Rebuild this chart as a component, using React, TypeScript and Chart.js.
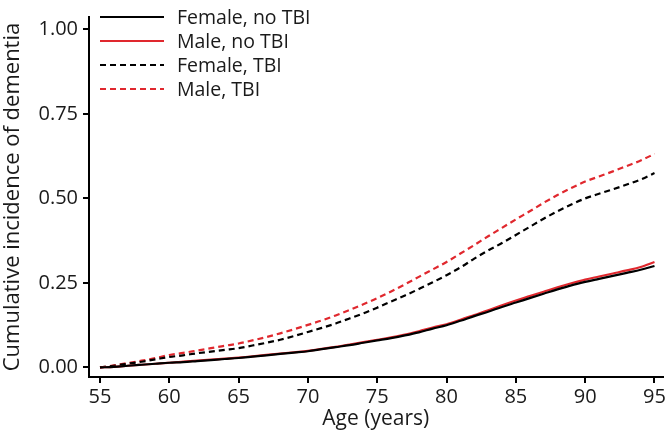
import React, { useEffect, useRef } from "react";
import { Chart, registerables } from "chart.js";

Chart.register(...registerables);

const ages = [55, 56, 57, 58, 59, 60, 61, 62, 63, 64, 65, 66, 67, 68, 69, 70, 71, 72, 73, 74, 75, 76, 77, 78, 79, 80, 81, 82, 83, 84, 85, 86, 87, 88, 89, 90, 91, 92, 93, 94, 95];

const femaleNoTBI = [0, 0.002, 0.005, 0.008, 0.011, 0.014, 0.016, 0.019, 0.022, 0.025, 0.028, 0.032, 0.036, 0.040, 0.044, 0.048, 0.054, 0.060, 0.066, 0.073, 0.080, 0.087, 0.095, 0.104, 0.115, 0.125, 0.138, 0.152, 0.165, 0.179, 0.192, 0.205, 0.218, 0.231, 0.243, 0.253, 0.262, 0.271, 0.280, 0.289, 0.300];
const maleNoTBI = [0, 0.002, 0.005, 0.008, 0.011, 0.014, 0.017, 0.020, 0.023, 0.026, 0.029, 0.033, 0.037, 0.041, 0.045, 0.049, 0.055, 0.061, 0.068, 0.075, 0.082, 0.089, 0.097, 0.107, 0.118, 0.128, 0.141, 0.155, 0.169, 0.184, 0.198, 0.211, 0.224, 0.237, 0.249, 0.260, 0.269, 0.278, 0.287, 0.297, 0.312];
const femaleTBI = [0, 0.005, 0.011, 0.017, 0.024, 0.031, 0.036, 0.042, 0.047, 0.052, 0.057, 0.065, 0.073, 0.082, 0.093, 0.105, 0.117, 0.130, 0.145, 0.160, 0.177, 0.195, 0.213, 0.232, 0.252, 0.273, 0.296, 0.322, 0.346, 0.368, 0.392, 0.416, 0.440, 0.462, 0.482, 0.500, 0.514, 0.527, 0.541, 0.556, 0.575];
const maleTBI = [0, 0.006, 0.013, 0.020, 0.028, 0.037, 0.043, 0.050, 0.057, 0.064, 0.071, 0.080, 0.090, 0.101, 0.113, 0.126, 0.139, 0.154, 0.170, 0.187, 0.205, 0.225, 0.246, 0.268, 0.290, 0.312, 0.337, 0.362, 0.388, 0.413, 0.438, 0.462, 0.487, 0.510, 0.531, 0.550, 0.565, 0.580, 0.596, 0.612, 0.632];

const seriesLabels = ["Female, no TBI", "Male, no TBI", "Female, TBI", "Male, TBI"];
const xTicks = [55, 60, 65, 70, 75, 80, 85, 90, 95];
const yTicks = [0, 0.25, 0.5, 0.75, 1.0];

const RED = "#E0282E";
const BLACK = "#000000";
const TEXT = "#1a1a1a";
const FONT = "'Open Sans', sans-serif";

const legendPlugin = {
  id: "insideLegend",
  afterDatasetsDraw(chart: any) {
    const ctx = chart.ctx;
    ctx.save();
    chart.data.datasets.forEach((ds: any, i: number) => {
      const y = 17 + i * 24;
      ctx.beginPath();
      ctx.strokeStyle = ds.borderColor;
      ctx.lineWidth = 2.2;
      ctx.setLineDash(ds.borderDash || []);
      ctx.moveTo(100, y);
      ctx.lineTo(164, y);
      ctx.stroke();
      ctx.setLineDash([]);
      ctx.fillStyle = TEXT;
      ctx.font = `19.5px ${FONT}`;
      ctx.textBaseline = "middle";
      ctx.textAlign = "left";
      ctx.fillText(ds.label, 177, y + 1);
    });
    ctx.restore();
  },
};

export default function App() {
  const ref = useRef<HTMLCanvasElement | null>(null);
  useEffect(() => {
    if (!ref.current) return;
    const mk = (vals: number[]) => ages.map((a, i) => ({ x: a, y: vals[i] }));
    const chart = new Chart(ref.current, {
      type: "line",
      data: {
        datasets: [
          { label: seriesLabels[0], data: mk(femaleNoTBI), borderColor: BLACK, borderWidth: 2.2, pointRadius: 0, cubicInterpolationMode: "monotone" },
          { label: seriesLabels[1], data: mk(maleNoTBI), borderColor: RED, borderWidth: 2.2, pointRadius: 0, cubicInterpolationMode: "monotone" },
          { label: seriesLabels[2], data: mk(femaleTBI), borderColor: BLACK, borderWidth: 2.2, borderDash: [6, 4], pointRadius: 0, cubicInterpolationMode: "monotone" },
          { label: seriesLabels[3], data: mk(maleTBI), borderColor: RED, borderWidth: 2.2, borderDash: [6, 4], pointRadius: 0, cubicInterpolationMode: "monotone" },
        ] as any,
      },
      options: {
        animation: false,
        responsive: false,
        maintainAspectRatio: false,
        layout: { padding: { left: 0, right: 5, top: 0, bottom: 0 } },
        plugins: { legend: { display: false }, tooltip: { enabled: false } },
        scales: {
          x: {
            type: "linear",
            min: 54.207,
            max: 95.58,
            afterBuildTicks: (s: any) => { s.ticks = xTicks.map((v) => ({ value: v })); },
            afterFit: (s: any) => { s.height = 59; },
            grid: { drawOnChartArea: false, drawTicks: true, tickLength: 6, tickColor: BLACK, lineWidth: 2 },
            border: { display: true, color: BLACK, width: 2 },
            ticks: { color: TEXT, font: { family: FONT, size: 20 }, padding: 2, maxRotation: 0, callback: (v: any) => String(v) },
            title: { display: true, text: "Age (years)", color: TEXT, font: { family: FONT, size: 21 }, padding: { top: 0, bottom: 4 } },
          },
          y: {
            type: "linear",
            min: -0.0282,
            max: 1.0367,
            afterBuildTicks: (s: any) => { s.ticks = yTicks.map((v) => ({ value: v })); },
            afterFit: (s: any) => { s.width = 89; },
            grid: { drawOnChartArea: false, drawTicks: true, tickLength: 6, tickColor: BLACK, lineWidth: 2 },
            border: { display: true, color: BLACK, width: 2 },
            ticks: { color: TEXT, font: { family: FONT, size: 20 }, padding: 5, callback: (v: any) => Number(v).toFixed(2) },
            title: { display: true, text: "Cumulative incidence of dementia", color: TEXT, font: { family: FONT, size: 22 }, padding: { top: 0, bottom: 0 } },
          },
        },
      } as any,
      plugins: [legendPlugin],
    });
    return () => chart.destroy();
  }, []);
  return (
    <div style={{ position: "absolute", left: 0, top: 0, width: 668, height: 436, background: "#fff" }}>
      <canvas ref={ref} width={668} height={436} style={{ width: 668, height: 436, display: "block" }} />
    </div>
  );
}
